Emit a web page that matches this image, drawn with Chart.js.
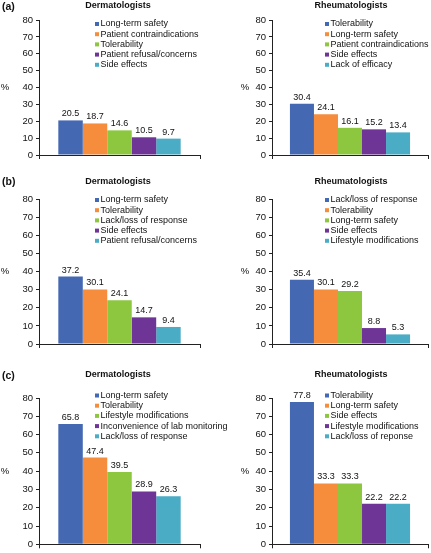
<!DOCTYPE html>
<html>
<head>
    <meta charset="UTF-8">
    <title>Reasons for switching - Dermatologists vs Rheumatologists</title>
    <script src="https://cdn.jsdelivr.net/npm/chart.js@4.4.0/dist/chart.umd.min.js"></script>
    <style>
        body { margin: 0; background: #fff; }
        #wrap { position: relative; width: 431px; height: 553px; overflow: hidden; }
        #wrap canvas { position: absolute; }
    </style>
</head>
<body>
    <div id="wrap"></div>
    <script type="text/javascript">
        // colours by rank (1st..5th reason)
        var barColors = ['#4568B2', '#F68D3C', '#8DC63F', '#6E3597', '#4BACC6'];
        var yMin = 0, yMax = 80, yStep = 10;

        // (a)
        var aDermLabels = ['Long-term safety', 'Patient contraindications', 'Tolerability', 'Patient refusal/concerns', 'Side effects'];
        var aDermValues = [20.5, 18.7, 14.6, 10.5, 9.7];
        var aRheumLabels = ['Tolerability', 'Long-term safety', 'Patient contraindications', 'Side effects', 'Lack of efficacy'];
        var aRheumValues = [30.4, 24.1, 16.1, 15.2, 13.4];
        // (b)
        var bDermLabels = ['Long-term safety', 'Tolerability', 'Lack/loss of response', 'Side effects', 'Patient refusal/concerns'];
        var bDermValues = [37.2, 30.1, 24.1, 14.7, 9.4];
        var bRheumLabels = ['Lack/loss of response', 'Tolerability', 'Long-term safety', 'Side effects', 'Lifestyle modifications'];
        var bRheumValues = [35.4, 30.1, 29.2, 8.8, 5.3];
        // (c)
        var cDermLabels = ['Long-term safety', 'Tolerability', 'Lifestyle modifications', 'Inconvenience of lab monitoring', 'Lack/loss of response'];
        var cDermValues = [65.8, 47.4, 39.5, 28.9, 26.3];
        var cRheumLabels = ['Tolerability', 'Long-term safety', 'Side effects', 'Lifestyle modifications', 'Lack/loss of reponse'];
        var cRheumValues = [77.8, 33.3, 33.3, 22.2, 22.2];

        var FONT = '"Liberation Sans", Arial, sans-serif';

        // layout of the grid (pixels)
        var cols = [
            { left: 0, width: 235, axisW: 39, padRight: 35, catPct: 0.76, legendX: 95, titleX: 118, pctX: 5 },
            { left: 215, width: 216, axisW: 57, padRight: 3, catPct: 0.77, legendX: 110, titleX: 136, pctX: 30 }
        ];
        var rows = [
            { top: 0, height: 172, padTop: 20, axisH: 17, legendY: 24, titleY: 6, letter: '(a)' },
            { top: 172, height: 188, padTop: 27, axisH: 16, legendY: 28, titleY: 9.5, letter: '(b)' },
            { top: 360, height: 193, padTop: 38, axisH: 6, legendY: 35.5, titleY: 15, letter: '(c)' }
        ];

        var panels = [
            { row: 0, col: 0, title: 'Dermatologists', labels: aDermLabels, values: aDermValues },
            { row: 0, col: 1, title: 'Rheumatologists', labels: aRheumLabels, values: aRheumValues },
            { row: 1, col: 0, title: 'Dermatologists', labels: bDermLabels, values: bDermValues },
            { row: 1, col: 1, title: 'Rheumatologists', labels: bRheumLabels, values: bRheumValues },
            { row: 2, col: 0, title: 'Dermatologists', labels: cDermLabels, values: cDermValues },
            { row: 2, col: 1, title: 'Rheumatologists', labels: cRheumLabels, values: cRheumValues }
        ];

        // value labels, legend, titles, "%" and panel letters
        var panelText = {
            id: 'panelText',
            afterDraw: function (chart, args, opts) {
                var ctx = chart.ctx;
                var area = chart.chartArea;
                ctx.save();
                ctx.fillStyle = '#111';

                ctx.font = '9px ' + FONT;
                ctx.textAlign = 'center';
                ctx.textBaseline = 'bottom';
                chart.data.datasets.forEach(function (ds, i) {
                    var bar = chart.getDatasetMeta(i).data[0];
                    ctx.fillText(ds.data[0].toFixed(1), bar.x, bar.y - 2);
                });

                ctx.textAlign = 'left';
                ctx.textBaseline = 'middle';
                chart.data.datasets.forEach(function (ds, i) {
                    var y = opts.legendY + i * 10.2;
                    ctx.fillStyle = ds.backgroundColor;
                    ctx.fillRect(opts.legendX, y - 2, 4, 4);
                    ctx.fillStyle = '#111';
                    ctx.fillText(ds.label, opts.legendX + 5.5, y);
                });

                ctx.font = 'bold 9px ' + FONT;
                ctx.textAlign = 'center';
                ctx.fillText(opts.title, opts.titleX, opts.titleY);

                ctx.font = '9.5px ' + FONT;
                ctx.fillText('%', opts.pctX, (area.top + area.bottom) / 2);

                if (opts.letter) {
                    ctx.font = 'bold 10.5px ' + FONT;
                    ctx.textAlign = 'left';
                    ctx.fillText(opts.letter, 2, opts.titleY + 1);
                }
                ctx.restore();
            }
        };

        var wrap = document.getElementById('wrap');
        panels.forEach(function (p) {
            var c = cols[p.col], r = rows[p.row];
            var canvas = document.createElement('canvas');
            canvas.width = c.width;
            canvas.height = r.height;
            canvas.style.left = c.left + 'px';
            canvas.style.top = r.top + 'px';
            wrap.appendChild(canvas);

            new Chart(canvas, {
                type: 'bar',
                data: {
                    labels: [''],
                    datasets: p.labels.map(function (lab, i) {
                        return { label: lab, data: [p.values[i]], backgroundColor: barColors[i], borderWidth: 0 };
                    })
                },
                options: {
                    responsive: false,
                    animation: false,
                    layout: { padding: { top: r.padTop, right: c.padRight, left: 0, bottom: 0 } },
                    datasets: { bar: { categoryPercentage: c.catPct, barPercentage: 1 } },
                    plugins: {
                        legend: { display: false },
                        tooltip: { enabled: false },
                        panelText: {
                            title: p.title,
                            titleX: c.titleX,
                            titleY: r.titleY,
                            legendX: c.legendX,
                            legendY: r.legendY,
                            pctX: c.pctX,
                            letter: p.col === 0 ? r.letter : null
                        }
                    },
                    scales: {
                        x: {
                            ticks: { display: false },
                            grid: { drawOnChartArea: false, tickLength: 4, color: '#222', offset: true },
                            border: { color: '#222' },
                            afterFit: function (s) { s.height = r.axisH; }
                        },
                        y: {
                            min: yMin,
                            max: yMax,
                            ticks: { stepSize: yStep, color: '#111', padding: 3, font: { family: FONT, size: 9.5 } },
                            grid: { drawOnChartArea: false, tickLength: 3, color: '#222' },
                            border: { color: '#222' },
                            afterFit: function (s) { s.width = c.axisW; }
                        }
                    }
                },
                plugins: [panelText]
            });
        });
    </script>
</body>
</html>
